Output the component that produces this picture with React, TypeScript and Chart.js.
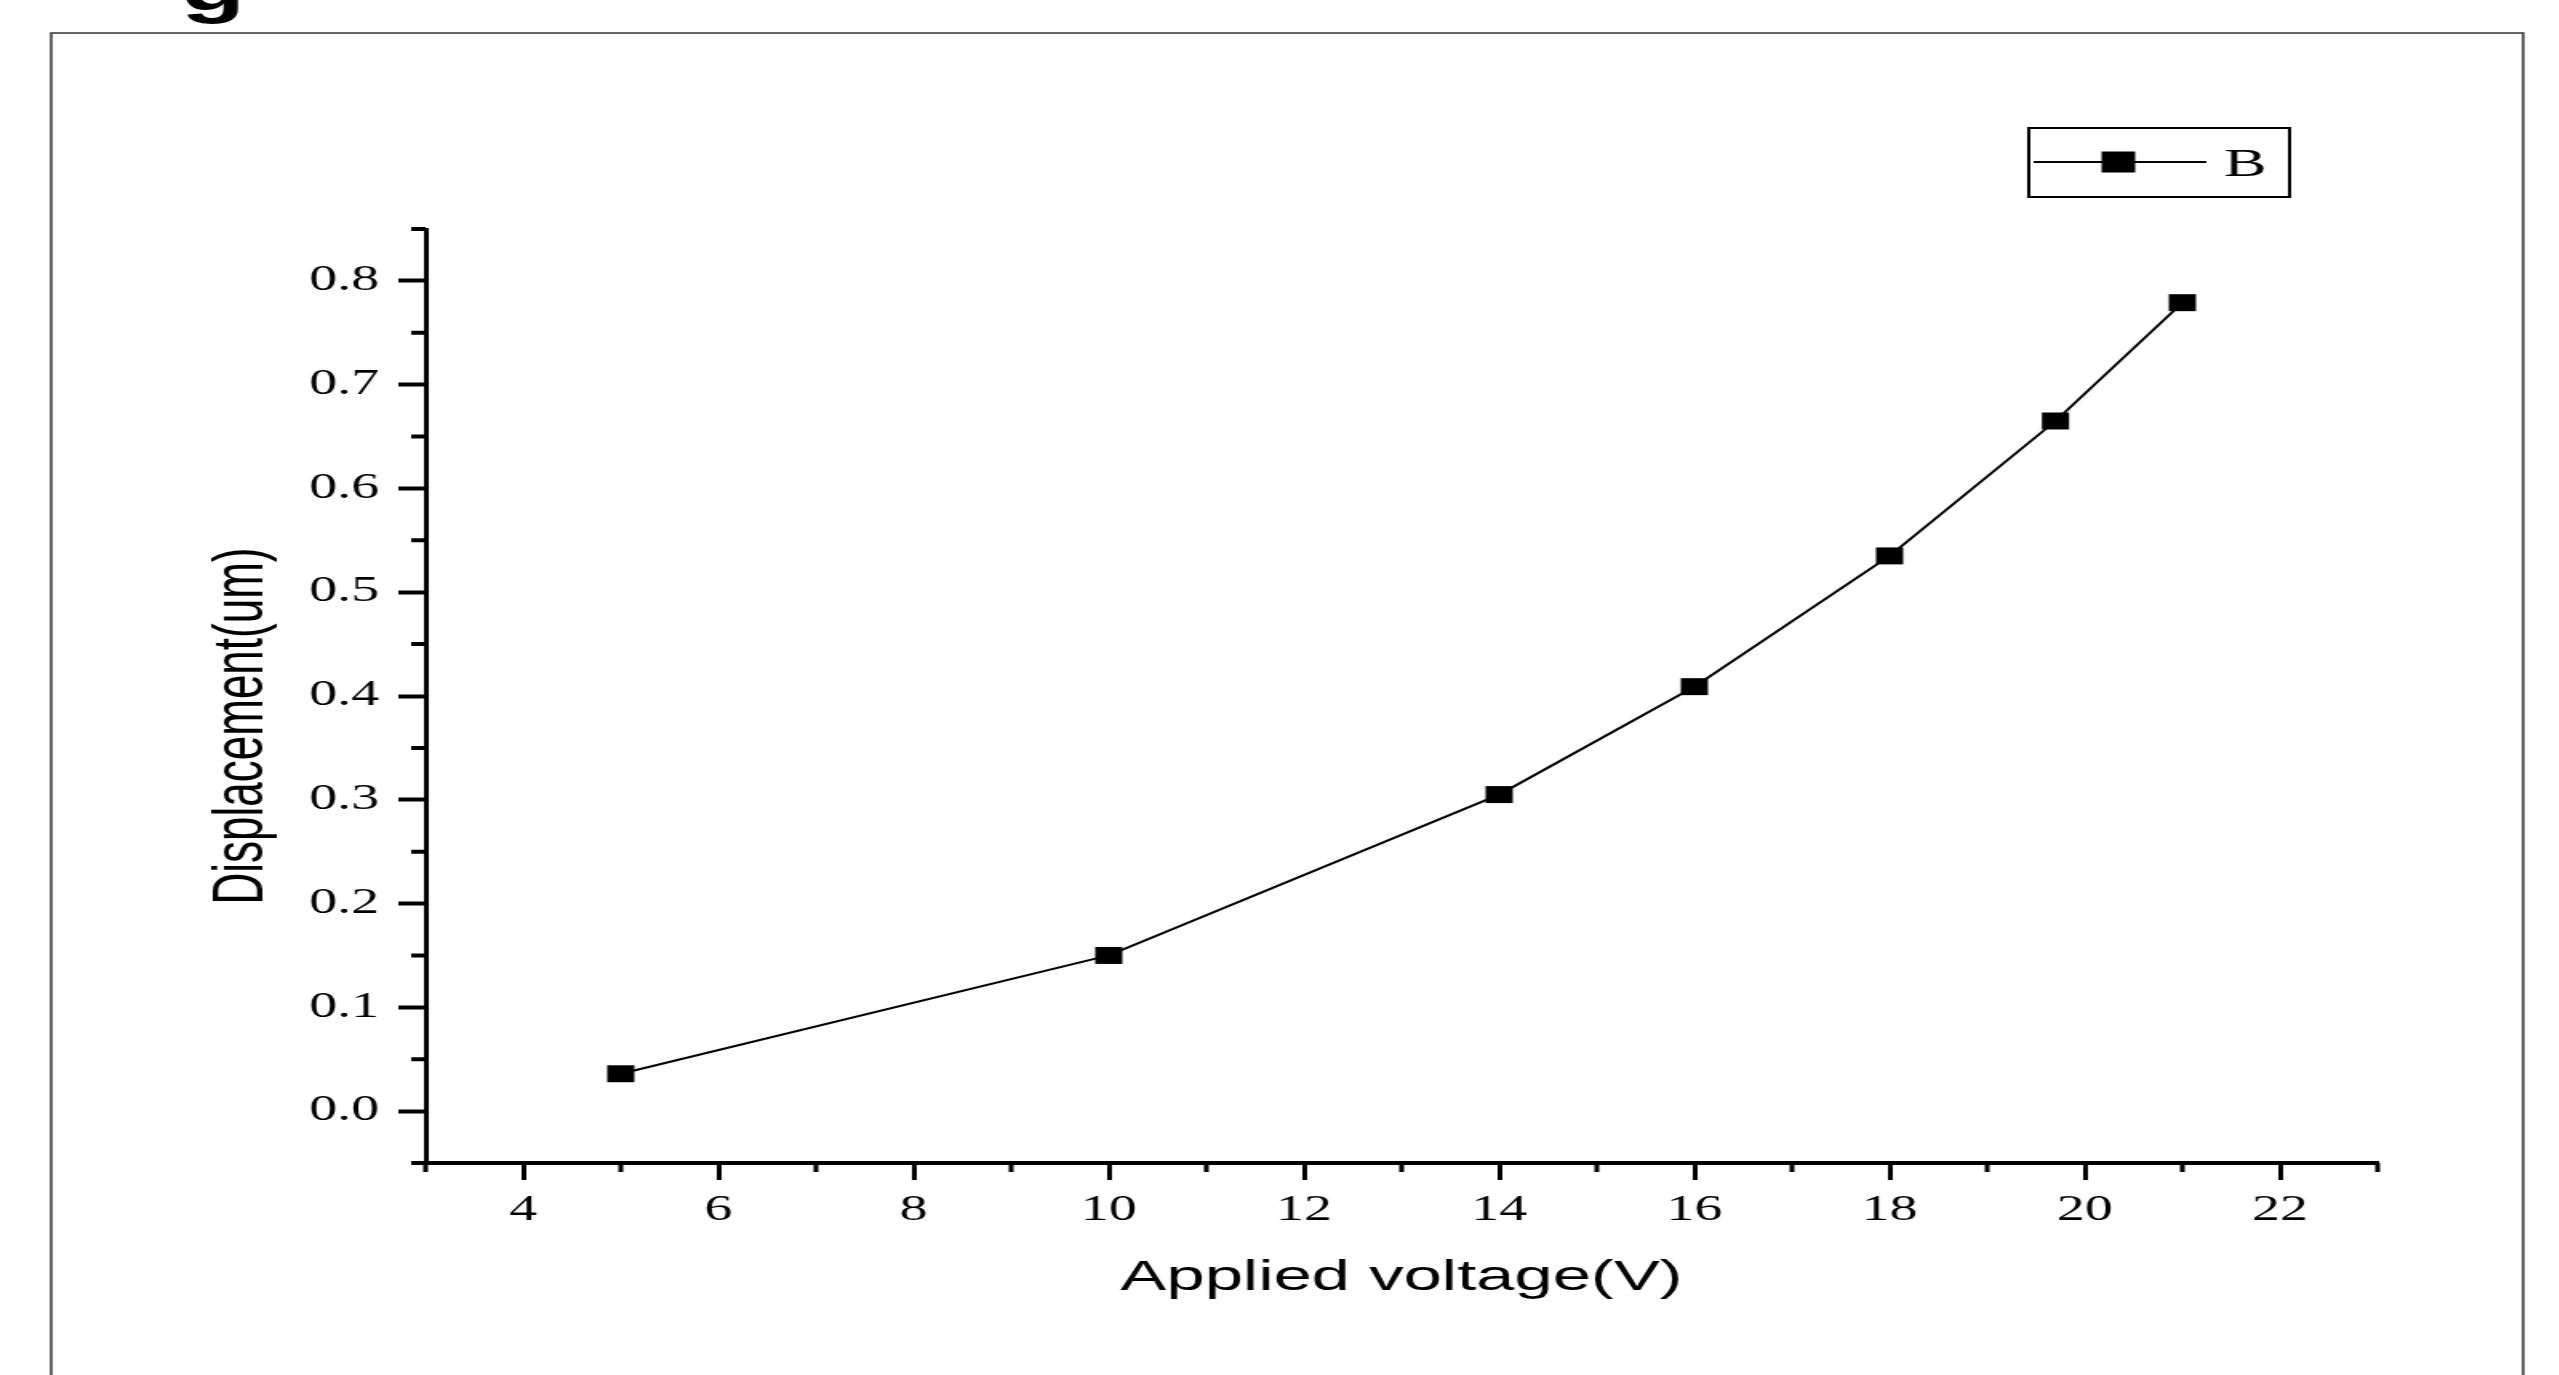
import { useEffect, useRef } from 'react';
import { Chart, registerables } from 'chart.js';

Chart.register(...registerables);

// ---- data ----
const voltage = [5, 10, 14, 16, 18, 19.7, 21];
const displacement = [0.036, 0.15, 0.305, 0.409, 0.535, 0.665, 0.779];
const seriesLabel = 'B';

const xTickValues = [4, 6, 8, 10, 12, 14, 16, 18, 20, 22];
const xMinorValues = [3, 5, 7, 9, 11, 13, 15, 17, 19, 21, 23];
const yTickValues = [0, 0.1, 0.2, 0.3, 0.4, 0.5, 0.6, 0.7, 0.8];
const yMinorValues = [-0.05, 0.05, 0.15, 0.25, 0.35, 0.45, 0.55, 0.65, 0.75, 0.85];

const xTitle = 'Applied voltage(V)';
const yTitle = 'Displacement(um)';
const cornerText = 'g';

// horizontal stretch of the original figure
const STRETCH = 1.6;
const CANVAS_W = 1600;
const CANVAS_H = 1375;

const SERIF = "'Liberation Serif', 'Times New Roman', serif";
const SANS = "'Liberation Sans', Arial, sans-serif";

const decorPlugin = {
  id: 'decor',
  beforeDraw(chart: any) {
    const { ctx } = chart;
    ctx.save();
    // outer frame
    ctx.strokeStyle = '#333';
    ctx.lineWidth = 1.5;
    ctx.beginPath();
    ctx.moveTo(32, CANVAS_H + 10);
    ctx.lineTo(32, 33);
    ctx.lineTo(1577, 33);
    ctx.lineTo(1577, CANVAS_H + 10);
    ctx.stroke();
    // cut-off heading letter
    ctx.fillStyle = '#000';
    ctx.font = `bold 66px ${SANS}`;
    ctx.textAlign = 'left';
    ctx.textBaseline = 'alphabetic';
    ctx.fillText(cornerText, 113, 10);
    ctx.restore();
  },
  afterDraw(chart: any) {
    const { ctx } = chart;
    const xs = chart.scales.x;
    const ys = chart.scales.y;
    ctx.save();
    ctx.strokeStyle = '#000';
    // minor ticks x
    ctx.lineWidth = 3;
    ctx.beginPath();
    xMinorValues.forEach((v) => {
      const px = xs.getPixelForValue(v);
      ctx.moveTo(px, xs.top);
      ctx.lineTo(px, xs.top + 9);
    });
    ctx.stroke();
    // minor ticks y
    ctx.lineWidth = 4;
    ctx.beginPath();
    yMinorValues.forEach((v) => {
      const py = ys.getPixelForValue(v);
      ctx.moveTo(ys.right, py);
      ctx.lineTo(ys.right - 9, py);
    });
    ctx.stroke();

    // y axis title
    ctx.fillStyle = '#000';
    ctx.font = `44px ${SANS}`;
    ctx.textAlign = 'center';
    ctx.textBaseline = 'middle';
    ctx.translate(152, 726);
    ctx.rotate(-Math.PI / 2);
    ctx.fillText(yTitle, 0, 0);
    ctx.restore();

    // legend
    const ds = chart.data.datasets[0];
    ctx.save();
    ctx.strokeStyle = '#000';
    ctx.lineWidth = 2;
    ctx.strokeRect(1268, 128, 163, 69);
    ctx.beginPath();
    ctx.lineWidth = 2;
    ctx.moveTo(1271, 162);
    ctx.lineTo(1379, 162);
    ctx.stroke();
    ctx.fillStyle = '#000';
    ctx.fillRect(1324 - 10.5, 162 - 10.5, 21, 21);
    ctx.font = `40px ${SERIF}`;
    ctx.textAlign = 'left';
    ctx.textBaseline = 'alphabetic';
    ctx.fillText(ds.label, 1390, 176);
    ctx.restore();
  },
};

export default function App() {
  const canvasRef = useRef<HTMLCanvasElement | null>(null);

  useEffect(() => {
    const canvas = canvasRef.current;
    if (!canvas) return;
    const chart = new Chart(canvas, {
      type: 'line',
      data: {
        datasets: [
          {
            label: seriesLabel,
            data: voltage.map((v, i) => ({ x: v, y: displacement[i] })),
            borderColor: '#000',
            borderWidth: 2,
            backgroundColor: '#000',
            pointStyle: 'rect',
            pointRadius: 12,
            pointHoverRadius: 12,
            pointBorderWidth: 0,
            pointBackgroundColor: '#000',
            tension: 0,
            fill: false,
          },
        ],
      },
      options: {
        responsive: false,
        animation: false,
        devicePixelRatio: 1,
        events: [],
        layout: { padding: { left: 0, top: 229, right: 114, bottom: 0 } },
        plugins: {
          legend: { display: false },
          tooltip: { enabled: false },
          title: { display: false },
        },
        scales: {
          x: {
            type: 'linear',
            min: 3,
            max: 23,
            afterBuildTicks: (scale: any) => {
              scale.ticks = xTickValues.map((value) => ({ value }));
            },
            afterFit: (scale: any) => {
              scale.height = CANVAS_H - 1163;
            },
            border: { display: true, color: '#000', width: 4 },
            grid: {
              display: true,
              drawOnChartArea: false,
              drawTicks: true,
              tickLength: 17,
              tickWidth: 3,
              tickColor: '#000',
            },
            ticks: {
              autoSkip: false,
              maxRotation: 0,
              padding: 10,
              color: '#000',
              font: { family: SERIF, size: 35 },
              callback: (v: any) => String(v),
            },
            title: {
              display: true,
              text: xTitle,
              color: '#000',
              font: { family: SANS, size: 43 },
              padding: { top: 0, bottom: 71 },
            },
          },
          y: {
            type: 'linear',
            min: -0.05,
            max: 0.85,
            afterBuildTicks: (scale: any) => {
              scale.ticks = yTickValues.map((value) => ({ value }));
            },
            afterFit: (scale: any) => {
              scale.width = 266;
            },
            border: { display: true, color: '#000', width: 3 },
            grid: {
              display: true,
              drawOnChartArea: false,
              drawTicks: true,
              tickLength: 17,
              tickWidth: 4,
              tickColor: '#000',
            },
            ticks: {
              autoSkip: false,
              padding: 12,
              color: '#000',
              font: { family: SERIF, size: 35 },
              callback: (v: any) => Number(v).toFixed(1),
            },
          },
        },
      },
      plugins: [decorPlugin],
    });
    return () => chart.destroy();
  }, []);

  return (
    <div
      style={{
        position: 'fixed',
        left: 0,
        top: 0,
        width: 2559,
        height: 1375,
        overflow: 'hidden',
        background: '#fff',
      }}
    >
      <canvas
        ref={canvasRef}
        width={CANVAS_W}
        height={CANVAS_H}
        style={{ display: 'block', transform: `scaleX(${STRETCH})`, transformOrigin: '0 0' }}
      />
    </div>
  );
}
